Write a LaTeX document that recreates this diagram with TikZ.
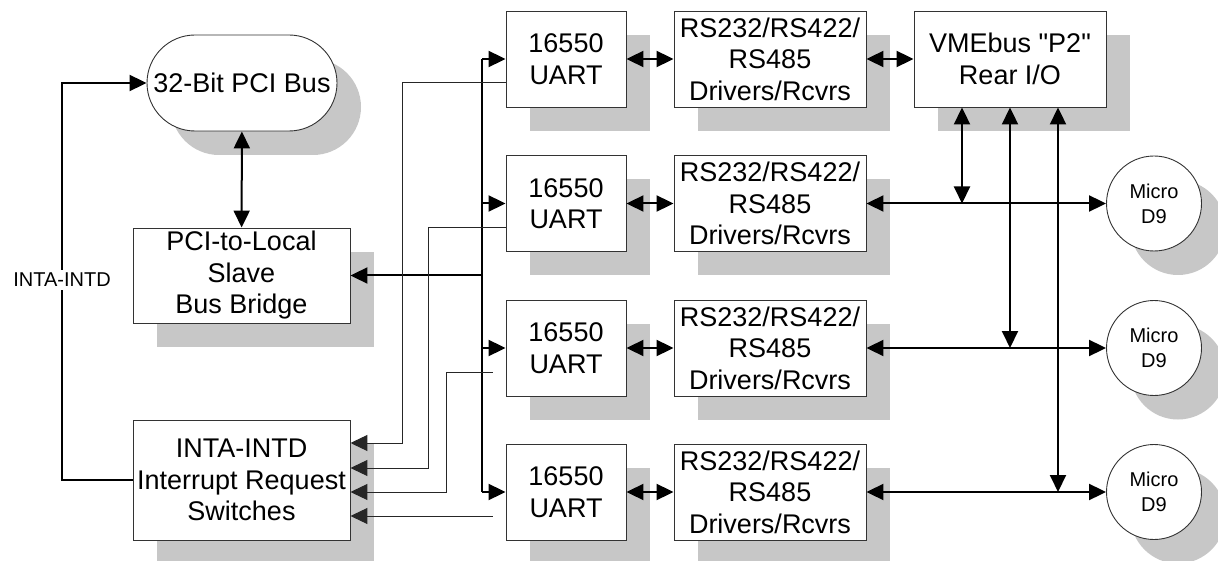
\documentclass[tikz,border=0pt]{standalone}
\usepackage{fontspec}
\setmainfont{Liberation Sans}[Ligatures=TeXOff]
\usetikzlibrary{arrows.meta,shadows}

\begin{document}
\begin{tikzpicture}[
  x=1pt, y=-1pt,
  >={Triangle[length=17pt,width=16pt]},
  shade_box/.style={drop shadow={shadow xshift=24pt, shadow yshift=-24pt, fill=black!22, opacity=1}},
  box/.style={rectangle, draw=black!80, line width=0.9pt, fill=white, inner sep=0pt, align=center, font=\fontsize{27}{31.5}\selectfont, shade_box},
  pill/.style={box, rounded corners=48pt, minimum width=190pt, minimum height=96pt},
  uart/.style={box, minimum width=120pt, minimum height=96pt},
  drv/.style={box, minimum width=192pt, minimum height=96pt},
  d9/.style={circle, draw=black!80, line width=0.9pt, fill=white, inner sep=0pt, minimum size=95pt, align=center, font=\fontsize{20}{25}\selectfont, shade_box},
  lbl/.style={fill=white, inner sep=3pt, font=\fontsize{20}{24}\selectfont},
  bold_conn/.style={line width=2pt, draw=black},
  irq_line/.style={line width=1pt, draw=black!85}
]
  \useasboundingbox (0,0) rectangle (1218,561);

  % --- Lado PCI ---
  \node[pill] (pci) at (242,83) {32-Bit PCI Bus};
  \node[box, minimum width=217pt, minimum height=95pt] (bridge) at (241.5,275.5) {PCI-to-Local\\Slave\\Bus Bridge};
  \node[box, minimum width=217pt, minimum height=120pt] (irqsw) at (241.5,480) {INTA-INTD\\Interrupt Request\\Switches};
  \node[lbl] (intlbl) at (62,280) {INTA-INTD};

  \draw[bold_conn,<->] (pci) -- (bridge);
  \draw[bold_conn] (irqsw.west) -| (intlbl);
  \draw[bold_conn,->] (intlbl) |- (pci.west);

  % --- UARTs y drivers ---
  \node[uart] (u1) at (566,59) {16550\\UART};
  \node[uart] (u2) at (566,203.5) {16550\\UART};
  \node[uart] (u3) at (566,348) {16550\\UART};
  \node[uart] (u4) at (566,492) {16550\\UART};

  \node[drv] (d1) at (770,59) {RS232/RS422/\\RS485\\Drivers/Rcvrs};
  \node[drv] (d2) at (770,203.5) {RS232/RS422/\\RS485\\Drivers/Rcvrs};
  \node[drv] (d3) at (770,348) {RS232/RS422/\\RS485\\Drivers/Rcvrs};
  \node[drv] (d4) at (770,492) {RS232/RS422/\\RS485\\Drivers/Rcvrs};

  \node[drv] (vme) at (1010,59) {VMEbus "P2"\\Rear I/O};

  \node[d9] (m1) at (1154,203.5) {Micro\\D9};
  \node[d9] (m2) at (1154,348) {Micro\\D9};
  \node[d9] (m3) at (1154,492) {Micro\\D9};

  % --- Bus local ---
  \coordinate (bt) at (482,59);
  \coordinate (bb) at (482,492);
  \draw[bold_conn] (bt) -- (bb);
  \draw[bold_conn,->] (bt) -- (u1.west);
  \draw[bold_conn,->] (bt |- u2.west) -- (u2.west);
  \draw[bold_conn,->] (bt |- u3.west) -- (u3.west);
  \draw[bold_conn,->] (bb) -- (u4.west);
  \draw[bold_conn,->] (bt |- bridge.east) -- (bridge.east);

  % UART <-> drivers
  \draw[bold_conn,<->] (u1) -- (d1);
  \draw[bold_conn,<->] (u2) -- (d2);
  \draw[bold_conn,<->] (u3) -- (d3);
  \draw[bold_conn,<->] (u4) -- (d4);

  % drivers <-> conectores
  \draw[bold_conn,<->] (d1) -- (vme);
  \draw[bold_conn,<->] (d2.east) -- (m1.west);
  \draw[bold_conn,<->] (d3.east) -- (m2.west);
  \draw[bold_conn,<->] (d4.east) -- (m3.west);

  % --- P2 hacia las lineas ---
  \coordinate (p1) at ([xshift=-48pt]vme.south);
  \coordinate (p2) at (vme.south);
  \coordinate (p3) at ([xshift=48pt]vme.south);
  \draw[bold_conn,<->] (p1) -- (p1 |- d2.east);
  \draw[bold_conn,<->] (p2) -- (p2 |- d3.east);
  \draw[bold_conn,<->] (p3) -- (p3 |- d4.east);

  % --- Interrupciones ---
  \draw[irq_line,->] ([yshift=-24pt]u1.west) -| ([shift={(52pt,37pt)}]irqsw.east) -- ([yshift=37pt]irqsw.east);
  \draw[irq_line,->] ([yshift=-24pt]u2.west) -| ([shift={(78pt,12pt)}]irqsw.east) -- ([yshift=12pt]irqsw.east);
  \draw[irq_line,->] ([shift={(-13pt,-24pt)}]u3.west) -| ([shift={(96pt,-12pt)}]irqsw.east) -- ([yshift=-12pt]irqsw.east);
  \draw[irq_line,->] ([shift={(-13pt,-24pt)}]u4.west) -- ([yshift=-36pt]irqsw.east);
\end{tikzpicture}
\end{document}
